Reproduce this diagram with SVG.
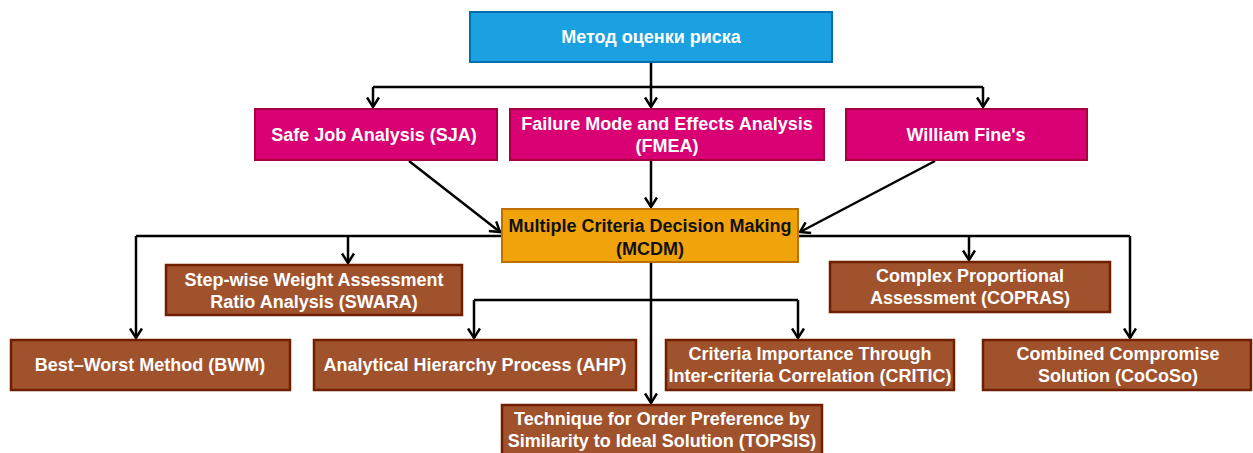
<svg xmlns="http://www.w3.org/2000/svg" width="1253" height="453" viewBox="0 0 1253 453">
<style>
text{font-family:"Liberation Sans",Arial,sans-serif;font-weight:bold;font-size:18px;text-anchor:middle;fill:#fff}
.blue{fill:#1BA1E2;stroke:#006EAF;stroke-width:2}
.mag{fill:#D80073;stroke:#A50040;stroke-width:2}
.org{fill:#F0A30A;stroke:#BD7000;stroke-width:2}
.brn{fill:#A0522D;stroke:#6D1F00;stroke-width:2.5}
.dark{fill:#111}
.c{fill:none;stroke:#000;stroke-width:2.5;marker-end:url(#arr)}
.l{fill:none;stroke:#000;stroke-width:2.5}
</style>
<defs>
<marker id="arr" markerWidth="14" markerHeight="14" refX="11" refY="7" orient="auto" markerUnits="userSpaceOnUse" viewBox="0 0 14 14">
<path d="M1.5,1 L11,7 L1.5,13" fill="none" stroke="#000" stroke-width="2.5"/>
</marker>
</defs>
<rect width="1253" height="453" fill="#fff"/>
<g id="connectors">
<path class="l" d="M651,62 V87 M373,87 H983"/>
<path class="c" d="M373,87 V107"/>
<path class="c" d="M651,87 V107"/>
<path class="c" d="M983,87 V107"/>
<path class="c" d="M409,161 L500,232"/>
<path class="c" d="M651,161 V207"/>
<path class="c" d="M935,161 L800,232"/>
<path class="l" d="M502,236 H136 M798,236 H1130"/>
<path class="c" d="M136,236 V338"/>
<path class="c" d="M348,236 V263"/>
<path class="c" d="M969,236 V260"/>
<path class="c" d="M1130,236 V338"/>
<path class="c" d="M651,262 V403"/>
<path class="l" d="M474,300 H798"/>
<path class="c" d="M474,300 V338"/>
<path class="c" d="M798,300 V338"/>
</g>
<g id="n-root"><rect class="blue" x="470" y="12" width="362" height="50"/><text x="651" y="43">Метод оценки риска</text></g>
<g id="n-sja"><rect class="mag" x="255" y="109" width="242" height="51"/><text x="374" y="141">Safe Job Analysis (SJA)</text></g>
<g id="n-fmea"><rect class="mag" x="510" y="109" width="314" height="51"/><text x="667" y="130">Failure Mode and Effects Analysis</text><text x="667" y="152">(FMEA)</text></g>
<g id="n-fine"><rect class="mag" x="846" y="109" width="241" height="51"/><text x="966" y="141">William Fine's</text></g>
<g id="n-mcdm"><rect class="org" x="502" y="209" width="296" height="53"/><text class="dark" x="650" y="232">Multiple Criteria Decision Making</text><text class="dark" x="650" y="255">(MCDM)</text></g>
<g id="n-swara"><rect class="brn" x="166" y="265" width="296" height="50"/><text x="314" y="286">Step-wise Weight Assessment</text><text x="314" y="308">Ratio Analysis (SWARA)</text></g>
<g id="n-copras"><rect class="brn" x="830" y="262" width="280" height="50"/><text x="970" y="282">Complex Proportional</text><text x="970" y="304">Assessment (COPRAS)</text></g>
<g id="n-bwm"><rect class="brn" x="11" y="340" width="279" height="50"/><text x="150" y="371">Best–Worst Method (BWM)</text></g>
<g id="n-ahp"><rect class="brn" x="314" y="340" width="322" height="50"/><text x="475" y="371">Analytical Hierarchy Process (AHP)</text></g>
<g id="n-critic"><rect class="brn" x="666" y="340" width="288" height="50"/><text x="810" y="360">Criteria Importance Through</text><text x="810" y="382">Inter-criteria Correlation (CRITIC)</text></g>
<g id="n-cocoso"><rect class="brn" x="983" y="340" width="268" height="50"/><text x="1118" y="360">Combined Compromise</text><text x="1118" y="382">Solution (CoCoSo)</text></g>
<g id="n-topsis"><rect class="brn" x="502" y="405" width="320" height="50"/><text x="662" y="425">Technique for Order Preference by</text><text x="662" y="447">Similarity to Ideal Solution (TOPSIS)</text></g>
</svg>
